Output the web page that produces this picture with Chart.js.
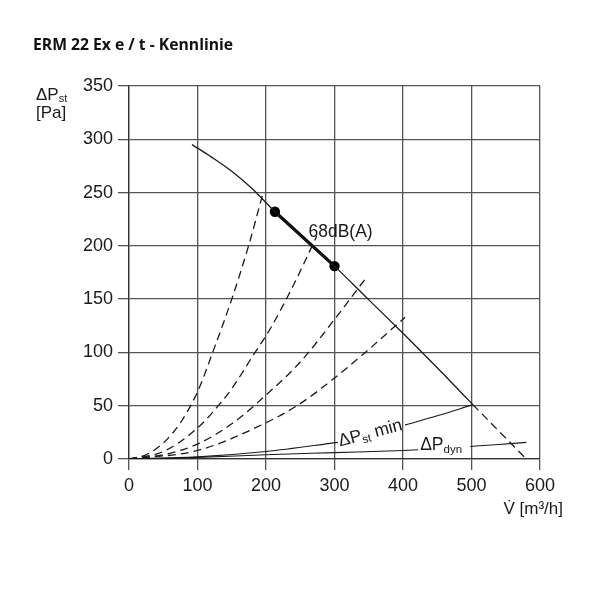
<!DOCTYPE html>
<html>
<head>
<meta charset="utf-8">
<script src="https://cdn.jsdelivr.net/npm/chart.js@4/dist/chart.umd.min.js"></script>
<style>
  html, body { margin: 0; padding: 0; background: #fff; }
  #wrap { position: relative; width: 600px; height: 600px; }
  canvas { display: block; }
</style>
</head>
<body>
<div id="wrap"><canvas id="c" width="600" height="600"></canvas></div>
<script>
// ---- data ----
const chartTitle = "ERM 22 Ex e / t - Kennlinie";
const xTicks = [0, 100, 200, 300, 400, 500, 600];
const yTicks = [0, 50, 100, 150, 200, 250, 300, 350];

// fan characteristic (solid)
const fanX = [92, 120, 150, 180, 213, 250, 300, 349, 400, 428, 460, 502];
const fanY = [295, 283.5, 270, 253.5, 232, 210, 181, 150, 118, 100, 79, 51];
// fan characteristic continuation (dashed)
const fanExtX = [502, 580];
const fanExtY = [51, 0];
// 68 dB(A) operating range
const opX = [213, 300];
const opY = [232, 181];

// system curves (dashed)
const sys1X = [0, 25, 50, 75, 100, 125, 150, 175, 195];
const sys1Y = [0, 4, 15, 34, 63, 105, 150, 201, 248];
const sys2X = [0, 50, 100, 125, 150, 181, 206, 240, 274];
const sys2Y = [0, 7, 29, 46, 66, 97, 122, 163, 209];
const sys3X = [0, 50, 100, 150, 200, 250, 300, 345];
const sys3Y = [0, 4, 14, 33, 60, 91, 131, 169];
const sys4X = [0, 100, 200, 250, 300, 345, 403];
const sys4Y = [0, 8, 34, 52, 76, 100, 133];

// ΔPst min (gap where the label sits -> null)
const pstMinX = [0, 100, 200, 305, 350, 403, 450, 502];
const pstMinY = [0, 2, 7, 15.6, null, 32, 40.5, 51];
// ΔPdyn
const pdynX = [0, 100, 200, 300, 400, 422, 460, 498, 540, 580];
const pdynY = [0, 1.5, 4, 6, 8, 8.7, null, 11.8, 13.6, 15.6];

const opLabel = "68dB(A)";
const yTitle1 = "ΔP", yTitleSub = "st", yTitle2 = "[Pa]";
const xTitle = "V̇ [m³/h]";
const pstLabelMain = "ΔP", pstLabelSub = "st", pstLabelTail = " min";
const pdynLabelMain = "ΔP", pdynLabelSub = "dyn";

// ---- helpers ----
const pts = (xs, ys) => xs.map((x, i) => ({ x: x, y: ys[i] }));
const INK = '#1a1a1a';
const FONT = '"Liberation Sans", Arial, sans-serif';

function lineDs(xs, ys, opts) {
  return Object.assign({
    data: pts(xs, ys),
    borderColor: INK,
    borderWidth: 1.3,
    pointRadius: 0,
    fill: false,
    spanGaps: false,
    cubicInterpolationMode: 'monotone'
  }, opts || {});
}

const dash = [8, 5];

const labelsPlugin = {
  id: 'labels',
  afterDraw(chart) {
    const ctx = chart.ctx;
    const xs = chart.scales.x, ys = chart.scales.y;
    ctx.save();
    ctx.fillStyle = INK;
    ctx.textBaseline = 'alphabetic';
    ctx.textAlign = 'left';

    // title
    ctx.font = 'bold 15.7px "Open Sans", "Noto Sans", sans-serif';
    ctx.fillStyle = '#111';
    ctx.fillText(chartTitle, 33, 50);

    ctx.fillStyle = INK;
    // y axis title
    ctx.font = '17px ' + FONT;
    ctx.fillText(yTitle1, 36, 100);
    let w = ctx.measureText(yTitle1).width;
    ctx.font = '11px ' + FONT;
    ctx.fillText(yTitleSub, 36 + w, 102);
    ctx.font = '17px ' + FONT;
    ctx.fillText(yTitle2, 36, 118);

    // x axis title
    ctx.textAlign = 'right';
    ctx.fillText(xTitle, 563, 514);
    ctx.textAlign = 'left';

    // 68dB(A)
    ctx.font = '17.5px ' + FONT;
    ctx.fillText(opLabel, xs.getPixelForValue(262), ys.getPixelForValue(208));

    // ΔPst min (rotated along curve)
    const cx = xs.getPixelForValue(352), cy = ys.getPixelForValue(25);
    ctx.save();
    ctx.translate(cx, cy);
    ctx.rotate(-15 * Math.PI / 180);
    ctx.font = '17.5px ' + FONT;
    const w1 = ctx.measureText(pstLabelMain).width;
    ctx.font = '11.5px ' + FONT;
    const w2 = ctx.measureText(pstLabelSub).width;
    ctx.font = '17.5px ' + FONT;
    const w3 = ctx.measureText(pstLabelTail).width;
    let sx = -(w1 + w2 + w3) / 2;
    ctx.fillText(pstLabelMain, sx, 6);
    ctx.font = '11.5px ' + FONT;
    ctx.fillText(pstLabelSub, sx + w1, 9);
    ctx.font = '17.5px ' + FONT;
    ctx.fillText(pstLabelTail, sx + w1 + w2, 6);
    ctx.restore();

    // ΔPdyn
    const dx = xs.getPixelForValue(425), dy = ys.getPixelForValue(8.5);
    ctx.font = '17.5px ' + FONT;
    ctx.fillText(pdynLabelMain, dx, dy);
    const wd = ctx.measureText(pdynLabelMain).width;
    ctx.font = '11.5px ' + FONT;
    ctx.fillText(pdynLabelSub, dx + wd, dy + 3);

    ctx.restore();
  }
};

new Chart(document.getElementById('c'), {
  type: 'scatter',
  data: {
    datasets: [
      lineDs(sys1X, sys1Y, { borderDash: dash, showLine: true }),
      lineDs(sys2X, sys2Y, { borderDash: dash, showLine: true }),
      lineDs(sys3X, sys3Y, { borderDash: dash, showLine: true }),
      lineDs(sys4X, sys4Y, { borderDash: dash, showLine: true }),
      lineDs(pstMinX, pstMinY, { showLine: true, borderWidth: 1.1 }),
      lineDs(pdynX, pdynY, { showLine: true, borderWidth: 1.1 }),
      lineDs(fanExtX, fanExtY, { borderDash: dash, showLine: true }),
      lineDs(fanX, fanY, { showLine: true }),
      lineDs(opX, opY, { showLine: true, borderWidth: 3.2, borderColor: '#000',
        pointRadius: 3.6, pointBackgroundColor: '#000', pointBorderColor: '#000',
        cubicInterpolationMode: 'default', tension: 0 })
    ]
  },
  options: {
    responsive: false,
    animation: false,
    devicePixelRatio: 1,
    layout: { padding: { left: 0, right: 60, top: 86, bottom: 0 } },
    plugins: { legend: { display: false }, tooltip: { enabled: false }, title: { display: false } },
    scales: {
      x: {
        type: 'linear', min: 0, max: 600,
        afterBuildTicks(scale) { scale.ticks = xTicks.map(v => ({ value: v })); },
        afterFit(scale) { scale.height = 141; },
        grid: { color: '#555', lineWidth: 1.3, tickLength: 11, drawTicks: true },
        border: { display: true, color: '#333', width: 1.3 },
        ticks: { color: '#1a1a1a', font: { family: FONT, size: 18 }, padding: 5, maxRotation: 0 }
      },
      y: {
        type: 'linear', min: 0, max: 350,
        afterBuildTicks(scale) { scale.ticks = yTicks.map(v => ({ value: v })); },
        afterFit(scale) { scale.width = 129; },
        grid: { color: '#555', lineWidth: 1.3, tickLength: 11, drawTicks: true },
        border: { display: true, color: '#333', width: 1.3 },
        ticks: { color: '#1a1a1a', font: { family: FONT, size: 18 }, padding: 5 }
      }
    }
  },
  plugins: [labelsPlugin]
});
</script>
</body>
</html>
